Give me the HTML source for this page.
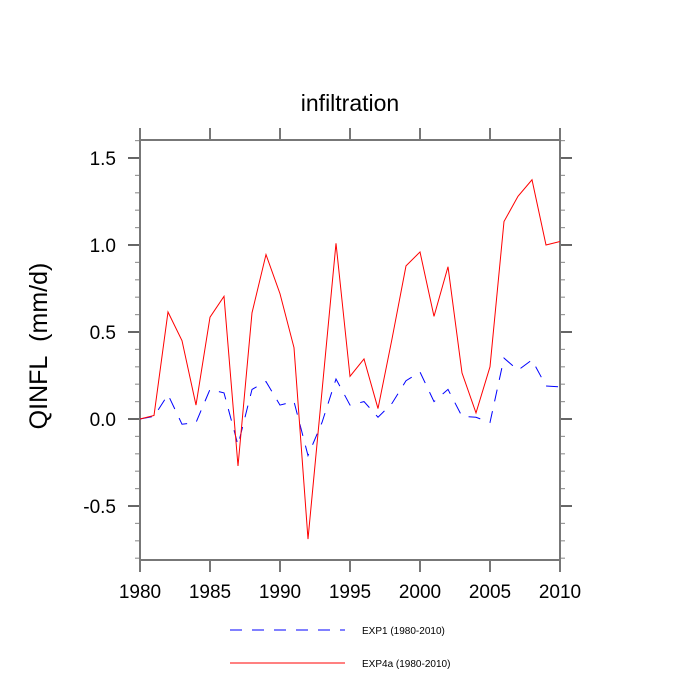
<!DOCTYPE html>
<html><head><meta charset="utf-8"><style>body{margin:0;background:#fff}svg{display:block}</style></head>
<body>
<svg id="chart" width="700" height="700" xmlns="http://www.w3.org/2000/svg" font-family="'Liberation Sans', sans-serif">
<text x="350" y="111" text-anchor="middle" font-size="23">infiltration</text>
<text transform="translate(47,346) rotate(-90)" text-anchor="middle" font-size="25">QINFL&#160; (mm/d)</text>
<g id="axes"></g>
<g id="series"></g>
<g>
<line x1="230" y1="630" x2="345" y2="630" stroke="#0000ff" stroke-width="1" stroke-dasharray="12,10"/>
<text x="362" y="634" font-size="10">EXP1 (1980-2010)</text>
<line x1="230" y1="663" x2="345" y2="663" stroke="#ff0000" stroke-width="1"/>
<text x="362" y="667" font-size="10">EXP4a (1980-2010)</text>
</g>
</svg>
<script>
const years = [1980,1981,1982,1983,1984,1985,1986,1987,1988,1989,1990,1991,1992,1993,1994,1995,1996,1997,1998,1999,2000,2001,2002,2003,2004,2005,2006,2007,2008,2009,2010];
const exp1 = [0.0,0.015,0.14,-0.03,-0.02,0.17,0.15,-0.15,0.17,0.215,0.08,0.1,-0.21,-0.02,0.23,0.08,0.1,0.01,0.09,0.22,0.27,0.1,0.17,0.015,0.01,-0.02,0.35,0.28,0.34,0.19,0.185];
const exp4a = [0.0,0.02,0.615,0.45,0.08,0.585,0.705,-0.27,0.61,0.945,0.72,0.41,-0.69,0.16,1.01,0.245,0.345,0.06,0.46,0.88,0.96,0.59,0.875,0.265,0.035,0.3,1.135,1.28,1.375,1.0,1.02];
const xTicks = [1980,1985,1990,1995,2000,2005,2010];
const yTicks = [-0.5,0.0,0.5,1.0,1.5];
const yTickLabels = ["-0.5","0.0","0.5","1.0","1.5"];

const L=140,R=560,T=140,B=560;
const x0=1980,x1=2010,yMin=-0.8103,yMax=1.6034;
const xs=v=>L+(v-x0)/(x1-x0)*(R-L);
const ys=v=>B-(v-yMin)/(yMax-yMin)*(B-T);
const NS="http://www.w3.org/2000/svg";
const axes=document.getElementById('axes');
function mk(tag,attrs,parent){const e=document.createElementNS(NS,tag);for(const k in attrs)e.setAttribute(k,attrs[k]);parent.appendChild(e);return e;}

for(let i=-8;i<=16;i++){const v=i/10;const y=ys(v);const major=(i%5===0);
 const len=major?12:5;const col=major?'#000':'#999';
 const a=mk('line',{x1:L-len,x2:L,y1:y,y2:y,stroke:col,'stroke-width':1.2},axes);
 
 
 const b=mk('line',{x1:R,x2:R+len,y1:y,y2:y,stroke:col,'stroke-width':1.2},axes);
 
 
}
xTicks.forEach(yr=>{const x=xs(yr);const len=12;
 const a=mk('line',{x1:x,x2:x,y1:T-len,y2:T,stroke:'#777','stroke-width':2},axes);
 
 
 const b=mk('line',{x1:x,x2:x,y1:B,y2:B+len,stroke:'#777','stroke-width':2},axes);
 
 
});
xTicks.forEach(v=>{const t=mk('text',{x:xs(v),y:598,'text-anchor':'middle','font-size':19},axes);t.textContent=v;
 
 });
yTicks.forEach((v,i)=>{const t=mk('text',{x:116,y:ys(v)+7,'text-anchor':'end','font-size':19},axes);t.textContent=yTickLabels[i];
 
 });
const frame=mk('rect',{x:L,y:T,width:R-L,height:B-T,fill:'none',stroke:'#777','stroke-width':2},axes);



const ser=document.getElementById('series');
const p1=mk('polyline',{points:years.map((y,i)=>xs(y)+','+ys(exp1[i])).join(' '),fill:'none',stroke:'#0000ff','stroke-width':1,'stroke-dasharray':'12,10'},ser);


const p2=mk('polyline',{points:years.map((y,i)=>xs(y)+','+ys(exp4a[i])).join(' '),fill:'none',stroke:'#ff0000','stroke-width':1},ser);


</script>
</body></html>
